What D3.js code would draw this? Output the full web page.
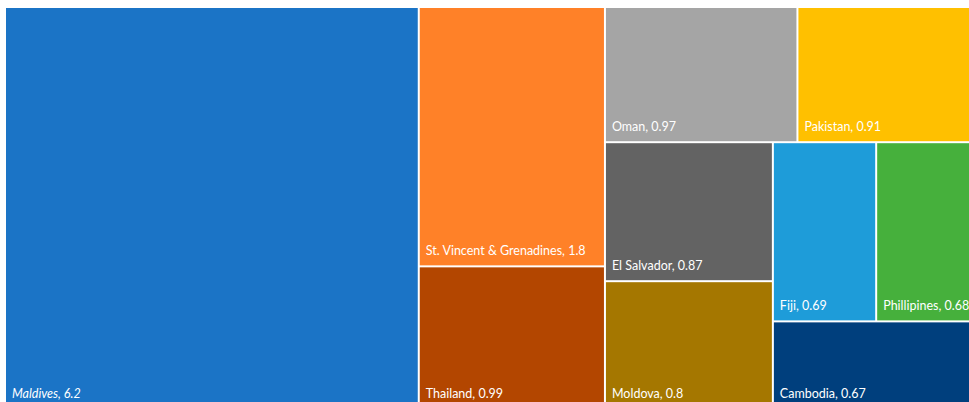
<!DOCTYPE html>
<html><head><meta charset="utf-8">
<script src="https://cdn.jsdelivr.net/npm/d3@7"></script>
<style>body{margin:0;background:#fff;overflow:hidden}svg{display:block}</style>
</head><body>
<script>
const countries = ["Maldives","St. Vincent & Grenadines","Thailand","Oman","Pakistan","El Salvador","Moldova","Fiji","Phillipines","Cambodia"];
const values = [6.2,1.8,0.99,0.97,0.91,0.87,0.8,0.69,0.68,0.67];
const colors = ["#1b74c6","#ff8128","#b34600","#a5a5a5","#ffc000","#636363","#a57700","#1e9cd9","#46b03c","#003f7d"];
const valueLabels = ["6.2","1.8","0.99","0.97","0.91","0.87","0.8","0.69","0.68","0.67"];

const W = 969, H = 402;
const svg = d3.select("body").append("svg").attr("width", W).attr("height", H);

const leaf = i => ({name: countries[i], value: values[i], color: colors[i], label: valueLabels[i], idx: i});
// nested grouping mirrors the reference layout
const tree = {name: "root", dir: "h", children: [
  leaf(0),
  {name: "g1", dir: "v", children: [leaf(1), leaf(2)]},
  {name: "g2", dir: "v", children: [
    {name: "g3", dir: "h", children: [leaf(3), leaf(4)]},
    {name: "g4", dir: "h", children: [
      {name: "g5", dir: "v", children: [leaf(5), leaf(6)]},
      {name: "g6", dir: "v", children: [
        {name: "g7", dir: "h", children: [leaf(7), leaf(8)]},
        leaf(9)
      ]}
    ]}
  ]}
]};

const root = d3.hierarchy(tree).sum(d => d.children ? 0 : d.value);
const tile = (node, x0, y0, x1, y1) => {
  if (node.data.dir === "h") d3.treemapDice(node, x0, y0, x1, y1);
  else d3.treemapSlice(node, x0, y0, x1, y1);
};
d3.treemap().tile(tile).size([971, 400]).paddingInner(2).round(false)(root);

const g = svg.append("g").attr("transform", "translate(6,8)");
const leaves = root.leaves();
const cell = g.selectAll("g.cell").data(leaves).join("g").attr("class", "cell");
cell.append("rect")
  .attr("x", d => d.x0).attr("y", d => d.y0)
  .attr("width", d => d.x1 - d.x0).attr("height", d => d.y1 - d.y0)
  .attr("fill", d => d.data.color);
cell.append("text")
  .attr("x", d => d.x0 + 6).attr("y", d => d.y1 - 10)
  .attr("fill", "#ffffff")
  .attr("font-family", "Lato, 'Open Sans', sans-serif")
  .attr("font-size", 12.5)
  .attr("font-style", d => d.data.idx === 0 ? "italic" : "normal")
  .text(d => d.data.name + ", " + d.data.label);
</script>
</body></html>
